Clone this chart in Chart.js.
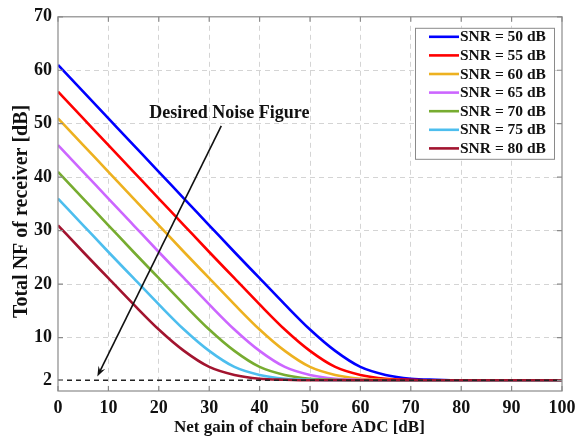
<!DOCTYPE html>
<html>
<head>
<meta charset="utf-8">
<script src="https://cdn.jsdelivr.net/npm/chart.js@4/dist/chart.umd.min.js"></script>
<style>
html,body{margin:0;padding:0;background:#fff;}
#wrap{width:583px;height:439px;}
</style>
</head>
<body>
<div id="wrap"><canvas id="c" width="583" height="439"></canvas></div>
<script>
const gains = [0,5,10,15,20,25,30,35,40,45,50,55,60,65,70,75,80,85,90,95,100];
const yTicks = [2,10,20,30,40,50,60,70];
const xTicks = [0,10,20,30,40,50,60,70,80,90,100];
const labels = ['SNR = 50 dB','SNR = 55 dB','SNR = 60 dB','SNR = 65 dB','SNR = 70 dB','SNR = 75 dB','SNR = 80 dB'];
const snr50 = [61,56,51,46,41,36,31,26,21.1,16.2,11.5,7.5,4.5,3.0,2.3,2.1,2.0,2.0,2.0,2.0,2.0];
const snr55 = [56,51,46,41,36,31,26,21.1,16.2,11.5,7.5,4.5,3.0,2.3,2.1,2.0,2.0,2.0,2.0,2.0,2.0];
const snr60 = [51,46,41,36,31,26,21.1,16.2,11.5,7.5,4.5,3.0,2.3,2.1,2.0,2.0,2.0,2.0,2.0,2.0,2.0];
const snr65 = [46,41,36,31,26,21.1,16.2,11.5,7.5,4.5,3.0,2.3,2.1,2.0,2.0,2.0,2.0,2.0,2.0,2.0,2.0];
const snr70 = [41,36,31,26,21.1,16.2,11.5,7.5,4.5,3.0,2.3,2.1,2.0,2.0,2.0,2.0,2.0,2.0,2.0,2.0,2.0];
const snr75 = [36,31,26,21.1,16.2,11.5,7.5,4.5,3.0,2.3,2.1,2.0,2.0,2.0,2.0,2.0,2.0,2.0,2.0,2.0,2.0];
const snr80 = [31,26,21.1,16.2,11.5,7.5,4.5,3.0,2.3,2.1,2.0,2.0,2.0,2.0,2.0,2.0,2.0,2.0,2.0,2.0,2.0];
const desiredX = [0,100];
const desiredNF = [2,2];
const annotText = 'Desired Noise Figure';
const annotTextPos = [34, 52];
const arrowFrom = [32.4, 49.6];
const arrowTo = [7.8, 2.7];

const colors = ['#0000ff','#ff0000','#edb120','#cc66ff','#77ac30','#4dbeee','#a2142f'];
const series = [snr50,snr55,snr60,snr65,snr70,snr75,snr80];
const FONT = '"Liberation Serif","Times New Roman",serif';

const datasets = series.map((s,i)=>({
  label: labels[i],
  data: gains.map((g,j)=>({x:g,y:s[j]})),
  borderColor: colors[i],
  backgroundColor: colors[i],
  borderWidth: 2.6,
  pointRadius: 0,
  cubicInterpolationMode: 'monotone',
  fill: false,
  order: 7 - i + 1
}));
datasets.push({
  label: 'Desired',
  data: desiredX.map((x,j)=>({x:x,y:desiredNF[j]})),
  borderColor: '#222',
  borderWidth: 1.6,
  borderDash: [5,4],
  pointRadius: 0,
  fill: false,
  order: 0
});

const framePlugin = {
  id: 'frame',
  afterDraw(chart) {
    const {ctx, chartArea: a, scales: {x, y}} = chart;
    ctx.save();
    ctx.strokeStyle = '#8a8a8a';
    ctx.lineWidth = 1.2;
    ctx.strokeRect(a.left, a.top, a.right - a.left, a.bottom - a.top);
    // inward ticks
    ctx.beginPath();
    xTicks.forEach(v => {
      const px = x.getPixelForValue(v);
      ctx.moveTo(px, a.bottom); ctx.lineTo(px, a.bottom - 5);
      ctx.moveTo(px, a.top); ctx.lineTo(px, a.top + 5);
    });
    yTicks.forEach(v => {
      const py = y.getPixelForValue(v);
      ctx.moveTo(a.left, py); ctx.lineTo(a.left + 5, py);
      ctx.moveTo(a.right, py); ctx.lineTo(a.right - 5, py);
    });
    ctx.stroke();

    // annotation arrow
    const x1 = x.getPixelForValue(arrowFrom[0]), y1 = y.getPixelForValue(arrowFrom[1]);
    const x2 = x.getPixelForValue(arrowTo[0]), y2 = y.getPixelForValue(arrowTo[1]);
    ctx.strokeStyle = '#111';
    ctx.fillStyle = '#111';
    ctx.lineWidth = 1.6;
    const ang = Math.atan2(y2 - y1, x2 - x1);
    const hl = 11;
    ctx.beginPath();
    ctx.moveTo(x1, y1);
    ctx.lineTo(x2 - Math.cos(ang) * 6, y2 - Math.sin(ang) * 6);
    ctx.stroke();
    ctx.beginPath();
    ctx.moveTo(x2, y2);
    ctx.lineTo(x2 - hl * Math.cos(ang - 0.35), y2 - hl * Math.sin(ang - 0.35));
    ctx.lineTo(x2 - hl * 0.6 * Math.cos(ang), y2 - hl * 0.6 * Math.sin(ang));
    ctx.lineTo(x2 - hl * Math.cos(ang + 0.35), y2 - hl * Math.sin(ang + 0.35));
    ctx.closePath();
    ctx.fill();

    ctx.font = 'bold 18px ' + FONT;
    ctx.textAlign = 'center';
    ctx.textBaseline = 'middle';
    ctx.fillText(annotText, x.getPixelForValue(annotTextPos[0]), y.getPixelForValue(annotTextPos[1]));

    // legend box
    const lx = a.right - 147, ly = a.top + 11, lw = 139, lh = 131;
    ctx.fillStyle = '#fff';
    ctx.fillRect(lx, ly, lw, lh);
    ctx.strokeStyle = '#8a8a8a';
    ctx.lineWidth = 1;
    ctx.strokeRect(lx + 0.5, ly + 0.5, lw, lh);
    ctx.font = 'bold 15.5px ' + FONT;
    ctx.textAlign = 'left';
    ctx.textBaseline = 'middle';
    chart.data.datasets.slice(0, labels.length).forEach((ds, i) => {
      const ry = ly + 9 + i * 18.6;
      ctx.strokeStyle = ds.borderColor;
      ctx.lineWidth = 2.6;
      ctx.beginPath();
      ctx.moveTo(lx + 14, ry); ctx.lineTo(lx + 44, ry);
      ctx.stroke();
      ctx.fillStyle = '#111';
      ctx.fillText(ds.label, lx + 45, ry + 0.5);
    });
    ctx.restore();
  }
};

const gridColor = (ctx, skip) => skip.includes(ctx.tick.value) ? 'rgba(0,0,0,0)' : '#d4d4d4';

new Chart(document.getElementById('c'), {
  type: 'line',
  data: { datasets },
  options: {
    responsive: false,
    animation: false,
    devicePixelRatio: 1,
    layout: { padding: { left: 0, right: 21, top: 15, bottom: 0 } },
    plugins: { legend: { display: false }, tooltip: { enabled: false } },
    scales: {
      x: {
        type: 'linear', min: 0, max: 100,
        afterBuildTicks: s => { s.ticks = xTicks.map(v => ({value: v})); },
        afterFit: s => { s.height = 48; },
        grid: { color: c => gridColor(c, [0,100]), drawTicks: false, lineWidth: 1 },
        border: { display: false, dash: [5,4] },
        ticks: { color: '#111', font: { family: FONT, size: 18, weight: 'bold' }, padding: 7, maxRotation: 0 },
        title: { display: true, text: 'Net gain of chain before ADC [dB]\u00a0\u00a0\u00a0\u00a0\u00a0', color: '#111', font: { family: FONT, size: 17, weight: 'bold' }, padding: { top: 0, bottom: 1 } }
      },
      y: {
        type: 'linear', min: 0, max: 70,
        afterBuildTicks: s => { s.ticks = yTicks.map(v => ({value: v})); },
        afterFit: s => { s.width = 58; },
        grid: { color: c => gridColor(c, [2,70]), drawTicks: false, lineWidth: 1 },
        border: { display: false, dash: [5,4] },
        ticks: { color: '#111', font: { family: FONT, size: 18, weight: 'bold' }, padding: 6 },
        title: { display: true, text: 'Total NF of receiver [dB]\u00a0\u00a0\u00a0', color: '#111', font: { family: FONT, size: 20, weight: 'bold' }, padding: { top: 10, bottom: 0 } }
      }
    }
  },
  plugins: [framePlugin]
});
</script>
</body>
</html>
